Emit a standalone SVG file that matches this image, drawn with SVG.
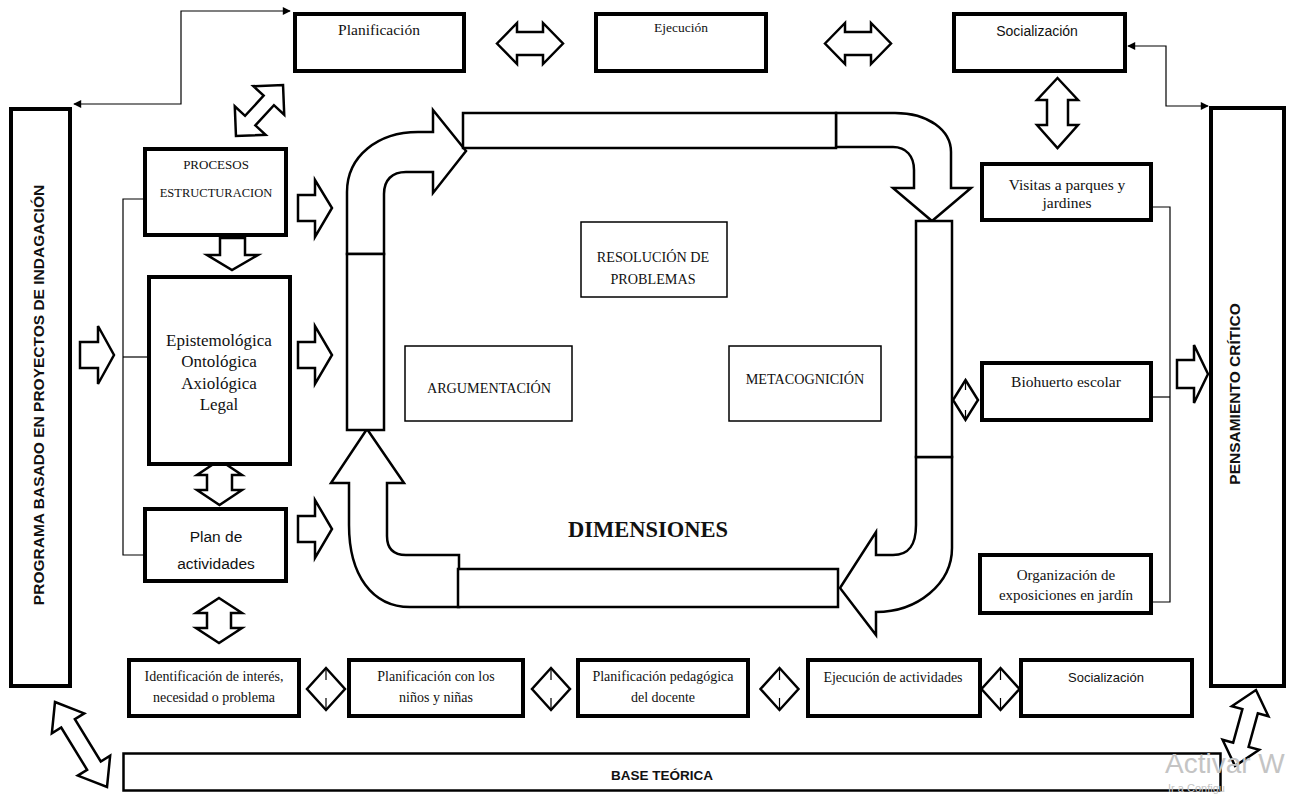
<svg xmlns="http://www.w3.org/2000/svg" width="1293" height="794" viewBox="0 0 1293 794">
<defs>
<marker id="ah" viewBox="0 0 10 10" refX="9" refY="5" markerWidth="9" markerHeight="8" markerUnits="userSpaceOnUse" orient="auto-start-reverse">
<path d="M0,0 L10,5 L0,10 Z" fill="#000"/>
</marker>
<polygon id="dbl-tl" points="-34.7,0 -13.7,-21 -13.7,-7 13.7,-7 13.7,-21 34.7,0 13.7,21 13.7,7 -13.7,7 -13.7,21"/>
</defs>
<style>
.box{fill:#fff;stroke:#000;stroke-width:4}
.bar{fill:#fff;stroke:#000;stroke-width:2.5}
.thin{fill:#fff;stroke:#000;stroke-width:1.5}
.arr{fill:#fff;stroke:#000;stroke-width:2.5;stroke-linejoin:miter}
.ln{fill:none;stroke:#000;stroke-width:1.2}
.serif{font-family:"Liberation Serif","Times New Roman",serif;fill:#111;text-anchor:middle}
.sans{font-family:"Liberation Sans",Arial,sans-serif;fill:#111;text-anchor:middle}
.wm{font-family:"Liberation Sans",Arial,sans-serif;fill:#c4c4c4}
</style>
<rect width="1293" height="794" fill="#fff"/>

<g id="connectors">
<polyline class="ln" points="74,104 181,104 181,11 290,11" marker-start="url(#ah)" marker-end="url(#ah)"/>
<polyline class="ln" points="1128,46 1166,46 1166,106 1208,106" marker-start="url(#ah)" marker-end="url(#ah)"/>
<polyline class="ln" points="145,199 123,199 123,555 145,555"/>
<line class="ln" x1="123" y1="357" x2="149" y2="357"/>
<polyline class="ln" points="1151,207 1170,207 1170,602 1151,602"/>
<line class="ln" x1="1151" y1="397" x2="1170" y2="397"/>
<polygon class="arr" points="497,43.5 517,23 517,32 543,32 543,23 563,43.5 543,64 543,55 517,55 517,64"/>
<polygon class="arr" points="825,43.5 845,23 845,32 871,32 871,23 891,43.5 871,64 871,55 845,55 845,64"/>
<polygon class="arr" points="1057.5,78 1078,100 1068,100 1068,125 1078,125 1057.5,148 1037,125 1047,125 1047,100 1037,100"/>
<use href="#dbl-tl" class="arr" transform="translate(259.5,110.5) rotate(-47.3)"/>
<polygon class="arr" points="80,342 98,342 98,326 114,355 98,384 98,368 80,368"/>
<polygon class="arr" points="298,195 315,195 315,180 332,208 315,237 315,221 298,221"/>
<polygon class="arr" points="298,342 315,342 315,326 332,355 315,384 315,368 298,368"/>
<polygon class="arr" points="298,516 315,516 315,500 332,529 315,558 315,542 298,542"/>
<polygon class="arr" points="220,238 245,238 245,255 258,255 232,270 207,255 220,255"/>
<polygon class="arr" points="219.5,460 242,475 232,475 232,490 242,490 219.5,505 197,490 207,490 207,475 197,475"/>
<polygon class="arr" points="219,598 242,613 231,613 231,628 242,628 219,643 196,628 207,628 207,613 196,613"/>
<polygon class="arr" points="1177,360 1194,360 1194,345 1208,374 1194,403 1194,388 1177,388"/>
<polygon class="arr" points="-49.8,0 -24.8,-19 -24.8,-8 24.8,-8 24.8,-19 49.8,0 24.8,19 24.8,8 -24.8,8 -24.8,19" transform="translate(81,744.5) rotate(58.5)"/>
<polygon class="arr" points="-39.4,0 -17.4,-19 -17.4,-8 17.4,-8 17.4,-19 39.4,0 17.4,19 17.4,8 -17.4,8 -17.4,19" transform="translate(1245.5,728) rotate(105.4)"/>
<g class="arr">
<polygon points="326,668 345,689 326,710 307,689"/>
<polygon points="551,668 570,689 551,710 532,689"/>
<polygon points="779.5,668 798.5,689 779.5,710 760.5,689"/>
<polygon points="1000.5,668 1019.5,689 1000.5,710 981.5,689"/>
<polygon points="965.5,380 978,400 965.5,420 953,400"/>
</g>
<g class="ln" stroke-width="1.8">
<path d="M326,668 V680 M326,710 V698"/>
<path d="M551,668 V680 M551,710 V698"/>
<path d="M779.5,668 V680 M779.5,710 V698"/>
<path d="M1000.5,668 V680 M1000.5,710 V698"/>
<path d="M965.5,380 V390 M965.5,420 V410"/>
</g>
</g>

<g id="cycle">
<path class="arr" d="M347,254 L347,192 C347,156 378,132 418,132 L433,132 L433,110 L466,151 L433,193 L433,172 L406,172 C392,172 384,180 384,194 L384,254 Z"/>
<path class="arr" d="M367,429 L404,483 L387,483 L387,536 C387,549 394,555 406,555 L459,555 L459,607 L410,607 C372,607 349,575 349,525 L349,483 L331,483 Z"/>
<path class="arr" d="M836,113 L895,113 C928,113 951,130 951,152 L951,188 L971,188 L932,221 L893,188 L914,188 L914,170 C914,156 906,147 893,147 L836,147 Z"/>
<path class="arr" d="M916,457 L916,525 C916,545 909,555 893,555 L876,555 L876,532 L840,588 L876,635 L876,612 A76,64 0 0 0 952,548 L952,457 Z"/>
<rect class="bar" x="463" y="113" width="373" height="35"/>
<rect class="bar" x="347" y="254" width="37" height="176"/>
<rect class="bar" x="916" y="221" width="36" height="236"/>
<rect class="bar" x="458" y="569" width="380" height="38"/>
<text class="serif" x="648" y="537" font-size="22.5" font-weight="bold">DIMENSIONES</text>
</g>

<g id="n-resolucion"><rect class="thin" x="581" y="222" width="146" height="75"/>
<text class="serif" x="653" y="262" font-size="14.2">RESOLUCIÓN DE</text>
<text class="serif" x="653" y="284" font-size="14.2">PROBLEMAS</text></g>
<g id="n-argumentacion"><rect class="thin" x="405" y="346" width="167" height="75"/>
<text class="serif" x="489" y="393" font-size="14.2">ARGUMENTACIÓN</text></g>
<g id="n-metacognicion"><rect class="thin" x="729" y="346" width="152" height="75"/>
<text class="serif" x="805" y="384" font-size="14.2">METACOGNICIÓN</text></g>

<g id="n-planificacion"><rect class="box" x="295" y="14" width="169" height="57"/>
<text class="serif" x="379" y="35" font-size="15.5">Planificación</text></g>
<g id="n-ejecucion"><rect class="box" x="596" y="14" width="170" height="57"/>
<text class="serif" x="681" y="32" font-size="13.5">Ejecución</text></g>
<g id="n-socializacion-top"><rect class="box" x="954" y="14" width="171" height="57"/>
<text class="sans" x="1037" y="36" font-size="14">Socialización</text></g>

<g id="n-programa"><rect class="box" x="11" y="109" width="59" height="577"/>
<text class="sans" font-size="15.5" font-weight="bold" transform="translate(44,395) rotate(-90)">PROGRAMA BASADO EN PROYECTOS DE INDAGACIÓN</text></g>
<g id="n-pensamiento"><rect class="box" x="1211" y="108" width="73" height="578"/>
<text class="sans" font-size="15.5" font-weight="bold" transform="translate(1240,394) rotate(-90)">PENSAMIENTO CRÍTICO</text></g>

<g id="n-procesos"><rect class="box" x="145" y="149" width="141" height="86"/>
<text class="serif" x="216" y="169" font-size="13">PROCESOS</text>
<text class="serif" x="216" y="197" font-size="12.5">ESTRUCTURACION</text></g>
<g id="n-epistemologica"><rect class="box" x="149" y="277" width="141" height="187" stroke-width="4.5"/>
<text class="serif" x="219" y="346" font-size="17">Epistemológica</text>
<text class="serif" x="219" y="367" font-size="17">Ontológica</text>
<text class="serif" x="219" y="389" font-size="17">Axiológica</text>
<text class="serif" x="219" y="410" font-size="17">Legal</text></g>
<g id="n-plan"><rect class="box" x="145" y="509" width="141" height="72"/>
<text class="sans" x="216" y="542" font-size="15.5">Plan de</text>
<text class="sans" x="216" y="569" font-size="15.5">actividades</text></g>

<g id="n-visitas"><rect class="box" x="982" y="164" width="169" height="56"/>
<text class="serif" x="1067" y="190" font-size="15.5">Visitas a parques y</text>
<text class="serif" x="1067" y="208" font-size="15.5">jardines</text></g>
<g id="n-biohuerto"><rect class="box" x="982" y="363" width="169" height="57"/>
<text class="serif" x="1066" y="387" font-size="15.5">Biohuerto escolar</text></g>
<g id="n-organizacion"><rect class="box" x="980" y="555" width="171" height="58"/>
<text class="serif" x="1066" y="580" font-size="15">Organización de</text>
<text class="serif" x="1066" y="600" font-size="15">exposiciones en jardín</text></g>

<g id="n-identificacion"><rect class="box" x="129" y="660" width="170" height="56"/>
<text class="serif" x="214" y="681" font-size="14">Identificación de interés,</text>
<text class="serif" x="214" y="702" font-size="14">necesidad o problema</text></g>
<g id="n-plan-ninos"><rect class="box" x="349" y="660" width="174" height="56"/>
<text class="serif" x="436" y="681" font-size="14">Planificación con los</text>
<text class="serif" x="436" y="702" font-size="14">niños y niñas</text></g>
<g id="n-plan-pedagogica"><rect class="box" x="578" y="660" width="170" height="56"/>
<text class="serif" x="663" y="681" font-size="14">Planificación pedagógica</text>
<text class="serif" x="663" y="702" font-size="14">del docente</text></g>
<g id="n-ejecucion-act"><rect class="box" x="808" y="660" width="172" height="56"/>
<text class="serif" x="893" y="682" font-size="14">Ejecución de actividades</text></g>
<g id="n-socializacion-bot"><rect class="box" x="1021" y="660" width="171" height="56"/>
<text class="sans" x="1106" y="682" font-size="13">Socialización</text></g>

<g id="n-base"><rect class="bar" x="123.5" y="753.5" width="1097" height="37" stroke-width="3"/>
<text class="sans" x="662" y="780" font-size="13.5" font-weight="bold">BASE TEÓRICA</text></g>

<text class="wm" x="1165" y="773" font-size="28">Activar W</text>
<text class="wm" x="1168" y="792" font-size="11">Ir a Configu</text>
</svg>
